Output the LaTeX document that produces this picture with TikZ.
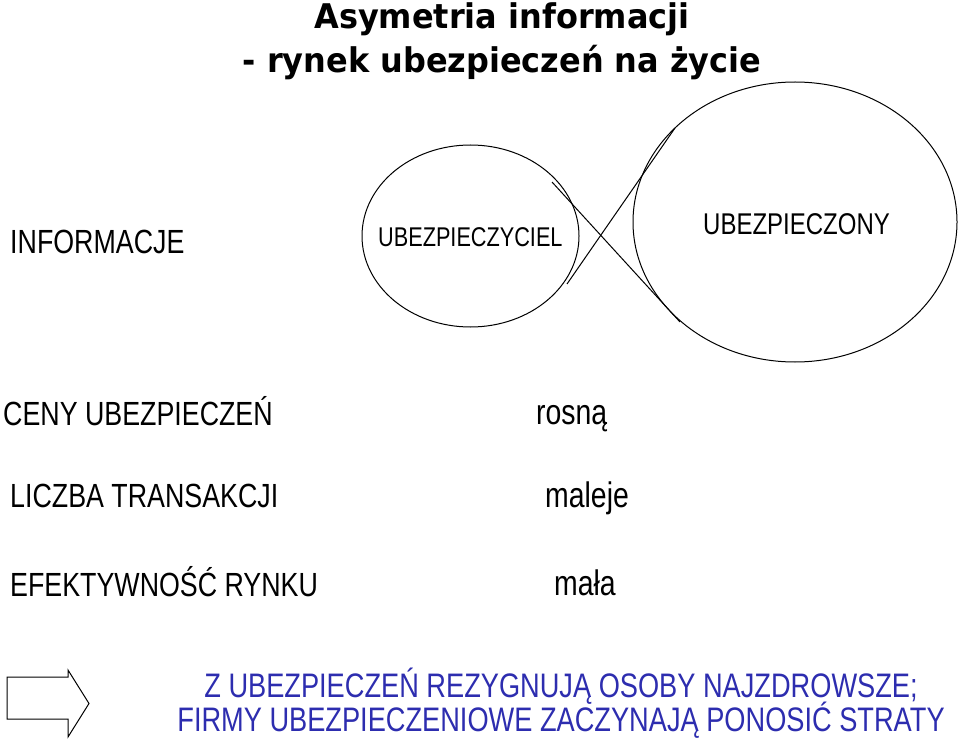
\documentclass[tikz,border=0pt]{standalone}
\usepackage{fontspec}
\setmainfont[FakeStretch=0.8]{Liberation Sans}
\newfontfamily\titlefont[FakeStretch=0.94]{DejaVu Sans}
\usetikzlibrary{shapes.geometric}
\definecolor{txtblue}{RGB}{45,45,175}
\begin{document}
\begin{tikzpicture}[x=1pt,y=-1pt,
  lbl/.style={anchor=base west,inner sep=0pt,font=\fontsize{33.5}{38}\selectfont},
  val/.style={anchor=base west,inner sep=0pt,font=\fontsize{35.5}{40}\selectfont},
  ttl/.style={anchor=base,inner sep=0pt,font=\titlefont\bfseries\fontsize{34}{40}\selectfont},
  blue/.style={anchor=base,inner sep=0pt,text=txtblue,font=\fontsize{34}{40}\selectfont},
  ring/.style={ellipse,draw=black,line width=1pt,inner sep=0pt},
  thin/.style={draw=black,line width=1pt}]
\useasboundingbox (0,0) rectangle (960,743);
% title
\node[ttl] (t1) at (502,29) {Asymetria informacji};
\node[ttl] (t2) at (502,73) {- rynek ubezpieczeń na życie};
% circles
\node[ring,minimum width=217pt,minimum height=182pt] (c1) at (470.5,236) {};
\node[ring,minimum width=324pt,minimum height=280pt] (c2) at (795,222) {};
\node[anchor=base west,inner sep=0pt,font=\fontsize{27.1}{32}\selectfont] (ins) at (378,247) {UBEZPIECZYCIEL};
\node[anchor=base west,inner sep=0pt,font=\fontsize{30}{35}\selectfont] (insd) at (703,234) {UBEZPIECZONY};
% crossing lines
\coordinate (a1) at (552,182);
\coordinate (a2) at (680,322);
\coordinate (b1) at (567,284);
\coordinate (b2) at (675,128);
\draw[thin] (a1) -- (a2);
\draw[thin] (b1) -- (b2);
% labels
\node[lbl] (info) at (10,253) {INFORMACJE};
\node[lbl] (ceny) at (3,425) {CENY UBEZPIECZEŃ};
\node[val] (rosna) at (536,424) {rosną};
\node[lbl] (liczba) at (10,507) {LICZBA TRANSAKCJI};
\node[val] (maleje) at (545,507) {maleje};
\node[lbl] (efekt) at (10,596) {EFEKTYWNOŚĆ RYNKU};
\node[val] (mala) at (554,595) {mała};
% arrow
\draw[thin,line join=miter] (7,677) -- (68,677) -- (68,670) -- (89,703.5) -- (68,737) -- (68,719) -- (7,719) -- cycle;
% conclusion
\node[blue] (w1) at (561,697) {Z UBEZPIECZEŃ REZYGNUJĄ OSOBY NAJZDROWSZE;};
\node[blue] (w2) at (561,731) {FIRMY UBEZPIECZENIOWE ZACZYNAJĄ PONOSIĆ STRATY};
\end{tikzpicture}
\end{document}
